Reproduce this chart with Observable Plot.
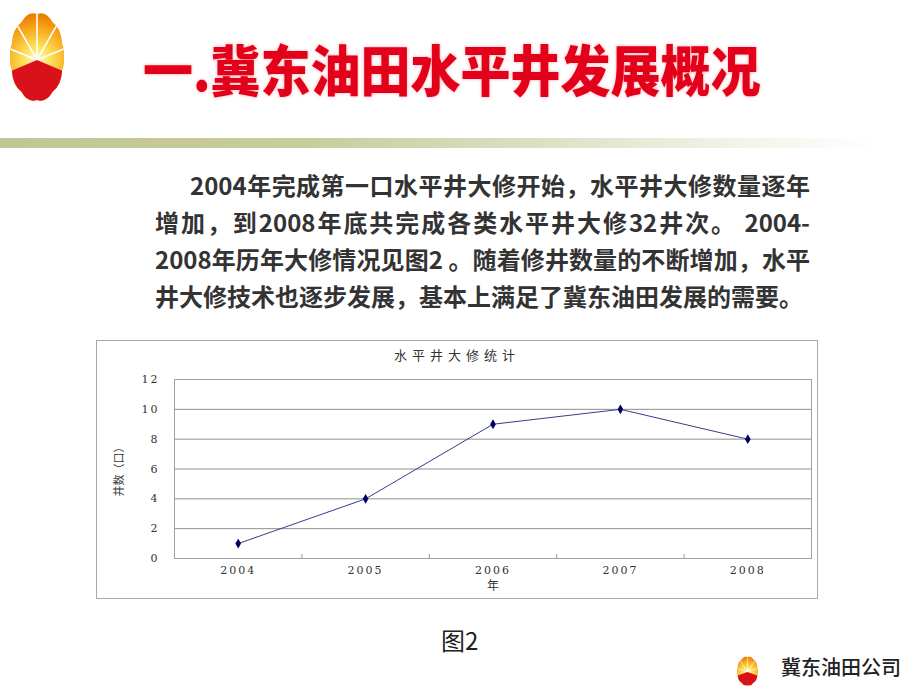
<!DOCTYPE html>
<html><head><meta charset="utf-8">
<script src="https://cdn.jsdelivr.net/npm/d3@7"></script>
<script src="https://cdn.jsdelivr.net/npm/@observablehq/plot@0.6"></script>
<style>
html,body{margin:0;padding:0;background:#fff;}
body{width:920px;height:690px;overflow:hidden;position:relative;font-family:"Noto Sans CJK SC",sans-serif;}
.abs{position:absolute;}
#title{left:143px;top:42px;font-size:50px;line-height:1;font-weight:900;color:#e2001a;white-space:nowrap;transform:scaleY(1.1);transform-origin:0 50%;text-shadow:0 0 3px rgba(255,120,120,0.7);}
#bar{left:0;top:138px;width:880px;height:10px;background:linear-gradient(to right,#c2c690 0%,#c9cc9c 35%,#dcdec2 60%,#f4f4ea 85%,#ffffff 100%);}
.ln{font-size:24px;line-height:37px;font-weight:700;color:#333;white-space:nowrap;}
.jus{text-align:justify;text-align-last:justify;}
#box{left:96px;top:340px;width:720px;height:257px;border:1px solid #a8a8a8;}
#ctitle{left:0;width:720px;top:4px;text-align:center;font-size:13px;letter-spacing:5px;color:#333;font-family:"Noto Sans CJK SC",serif;}
#plot{left:0;top:0;}
#fig{left:441px;top:624px;font-size:24px;line-height:32px;color:#222;}
#foot{left:781px;top:654px;font-size:20px;line-height:26px;color:#222;font-weight:500;}
</style></head>
<body>
<div class="abs" id="logo1" style="left:10px;top:12px;width:54px;height:90px;"></div>
<div class="abs" id="title">一.冀东油田水平井发展概况</div>
<div class="abs" id="bar"></div>
<div class="abs ln jus" style="left:190px;top:166px;width:620px;">2004年完成第一口水平井大修开始，水平井大修数量逐年</div>
<div class="abs ln jus" style="left:155px;top:203px;width:655px;">增加，到2008年底共完成各类水平井大修32井次。 2004-</div>
<div class="abs ln jus" style="left:155px;top:240px;width:655px;">2008年历年大修情况见图2 。随着修井数量的不断增加，水平</div>
<div class="abs ln" style="left:155px;top:277px;">井大修技术也逐步发展，基本上满足了冀东油田发展的需要。</div>
<div class="abs" id="box">
  <div class="abs" id="plot"></div>
  <div class="abs" id="ctitle"></div>
</div>
<div class="abs" id="fig">图2</div>
<div class="abs" id="logo2" style="left:737px;top:656px;width:21px;height:30px;"></div>
<div class="abs" id="foot">冀东油田公司</div>
<script>
// ---- chart data ----
const years = [2004, 2005, 2006, 2007, 2008];
const counts = [1, 4, 9, 10, 8];
const yTicks = [0, 2, 4, 6, 8, 10, 12];
const chartTitle = "水平井大修统计";
const xLabel = "年";
const yLabel = "井数（口）";

const data = years.map((year, i) => ({year, count: counts[i]}));
const bounds = years.slice(1).map(y => y - 0.5);

document.getElementById("ctitle").textContent = chartTitle;

const serif = "'DejaVu Serif', 'Liberation Serif', serif";
const chart = Plot.plot({
  width: 720, height: 257,
  marginLeft: 77, marginRight: 6, marginTop: 38, marginBottom: 40,
  style: {fontFamily: "'Noto Sans CJK SC', sans-serif", fontSize: "11px", color: "#333", background: "transparent", overflow: "visible"},
  x: {domain: [years[0] - 0.5, years[years.length - 1] + 0.5], label: null},
  y: {domain: [yTicks[0], yTicks[yTicks.length - 1]], label: null},
  marks: [
    Plot.ruleY(yTicks.slice(1, -1), {stroke: "#8f8f8f", strokeWidth: 1}),
    Plot.frame({stroke: "#a0a0a0"}),
    Plot.axisX({ticks: bounds, tickSize: 4, dy: -4, tickFormat: () => "", stroke: "#999"}),
    Plot.axisX({ticks: years, tickSize: 0, tickPadding: 8, tickFormat: d => String(d), fontSize: 11, fontFamily: serif, fill: "#333"}),
    Plot.axisY({ticks: yTicks, tickSize: 0, tickPadding: 15, fontSize: 11, fontFamily: serif, fill: "#333"}),
    Plot.line(data, {x: "year", y: "count", stroke: "#3b3b8f", strokeWidth: 1}),
    Plot.dot(data, {x: "year", y: "count", symbol: "diamond", r: 3, fill: "#000066", stroke: "none"}),
    Plot.text([xLabel], {frameAnchor: "bottom", lineAnchor: "middle", dy: 28, fontSize: 12, fill: "#333"}),
    Plot.text([yLabel], {frameAnchor: "left", lineAnchor: "middle", textAnchor: "middle", dx: -55, rotate: -90, fontSize: 11, fill: "#333"})
  ]
});
d3.select(chart).selectAll('g[aria-label="x-axis tick label"] text, g[aria-label="y-axis tick label"] text')
  .attr("letter-spacing", "2px");
document.getElementById("plot").appendChild(chart);

// ---- logo (decoration) ----
function logoSVG(w, h) {
  const cx = 27, cy = 46, rx = 26.5, ry = 44, n = 10;
  const pts = [];
  for (let k = 0; k <= n; k++) {
    const a = -Math.PI / 2 + 2 * Math.PI * k / n;
    pts.push([cx + rx * Math.cos(a), cy + ry * Math.sin(a)]);
  }
  let d = `M${pts[0][0]},${pts[0][1]}`;
  for (let k = 0; k < n; k++) {
    const a = -Math.PI / 2 + 2 * Math.PI * (k + 0.5) / n;
    const c = [cx + rx * 1.13 * Math.cos(a), cy + ry * 1.13 * Math.sin(a)];
    d += `Q${c[0]},${c[1]} ${pts[k + 1][0]},${pts[k + 1][1]}`;
  }
  d += "Z";
  const ax = 27, ay = 49;
  let rays = "";
  [-162, -126, -90, -54, -18].forEach(deg => {
    const a = deg * Math.PI / 180;
    rays += `<line x1="${ax}" y1="${ay}" x2="${ax + 60 * Math.cos(a)}" y2="${ay + 60 * Math.sin(a) * 1.3}" stroke="#fff" stroke-width="1.6"/>`;
  });
  const id = "g" + Math.random().toString(36).slice(2);
  return `<svg width="${w}" height="${h}" viewBox="0 0 54 92" preserveAspectRatio="none">
  <defs>
   <clipPath id="c${id}"><path d="${d}"/></clipPath>
   <radialGradient id="r${id}" cx="${ax}" cy="${ay}" r="46" gradientUnits="userSpaceOnUse">
     <stop offset="0" stop-color="#fffbd0"/><stop offset="0.3" stop-color="#fde05a"/><stop offset="0.7" stop-color="#f7a81c"/><stop offset="1" stop-color="#ee7d00"/>
   </radialGradient>
  </defs>
  <g clip-path="url(#c${id})">
   <rect x="-5" y="-5" width="64" height="100" fill="url(#r${id})"/>
   ${rays}
   <path d="M-5,63 L${ax},${ay} L59,63 L59,100 L-5,100Z" fill="#d9111b"/>
  </g></svg>`;
}
document.getElementById("logo1").innerHTML = logoSVG(54, 90);
document.getElementById("logo2").innerHTML = logoSVG(21, 30);
</script>
</body></html>
